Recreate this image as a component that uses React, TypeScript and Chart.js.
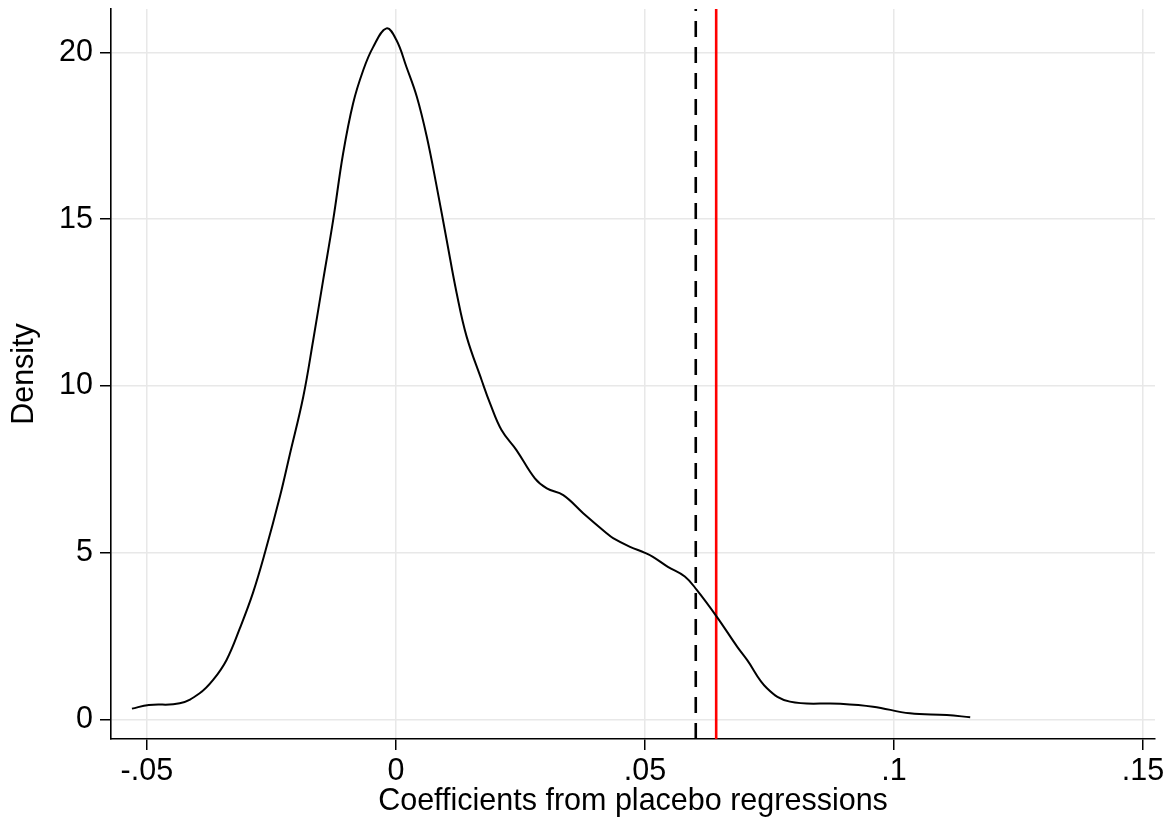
import React, { useEffect, useRef } from 'react';
import { Chart, registerables } from 'chart.js';

Chart.register(...registerables);

// Kernel density of placebo coefficients
const densityX = [
  -0.0530, -0.0496, -0.0434, -0.0394, -0.0367, -0.0340, -0.0313, -0.0287, -0.0263, -0.0233,
  -0.0213, -0.0186, -0.0166, -0.0146, -0.0126, -0.0106, -0.0086, -0.0066, -0.0046, -0.0019,
  0.0001, 0.0021, 0.0042, 0.0062, 0.0082, 0.0102, 0.0122, 0.0142, 0.0172, 0.0189,
  0.0212, 0.0242, 0.0279, 0.0303, 0.0336, 0.0376, 0.0423, 0.0436, 0.0470, 0.0500,
  0.0516, 0.0546, 0.0580, 0.0604, 0.0644, 0.0685, 0.0705, 0.0745, 0.0791, 0.0892,
  0.0958, 0.1032, 0.1106, 0.1153,
];
const densityY = [
  0.33, 0.44, 0.49, 0.79, 1.19, 1.79, 2.75, 3.80, 5.00, 6.68,
  7.95, 9.68, 11.38, 13.18, 14.97, 16.97, 18.47, 19.45, 20.15, 20.72,
  20.37, 19.57, 18.67, 17.47, 15.97, 14.37, 12.78, 11.48, 10.18, 9.48,
  8.68, 8.08, 7.23, 6.93, 6.73, 6.19, 5.59, 5.44, 5.18, 5.00,
  4.88, 4.58, 4.29, 3.89, 3.09, 2.19, 1.79, 0.94, 0.54, 0.48,
  0.39, 0.19, 0.14, 0.07,
];

const xTickValues = [-0.05, 0, 0.05, 0.1, 0.15];
const xTickLabels = ['-.05', '0', '.05', '.1', '.15'];
const yTickValues = [0, 5, 10, 15, 20];
const yTickLabels = ['0', '5', '10', '15', '20'];

const dashedLineX = 0.0602;
const redLineX = 0.0643;

const xMin = -0.0572;
const xMax = 0.1524;
const yMin = -0.58;
const yMax = 21.3;

const xTitle = 'Coefficients from placebo regressions';
const yTitle = 'Density';

export default function App() {
  const canvasRef = useRef<HTMLCanvasElement | null>(null);

  useEffect(() => {
    if (!canvasRef.current) return;
    const font = { family: '"Liberation Sans", Arial, Helvetica, sans-serif', size: 30.5 };
    const chart = new Chart(canvasRef.current, {
      type: 'line',
      data: {
        datasets: [
          {
            data: densityX.map((x, i) => ({ x, y: densityY[i] })),
            borderColor: '#000000',
            borderWidth: 2,
            pointRadius: 0,
            fill: false,
            tension: 0.4,
          },
          {
            data: [
              { x: dashedLineX, y: yMin },
              { x: dashedLineX, y: yMax },
            ],
            borderColor: '#000000',
            borderWidth: 2.6,
            borderDash: [16, 10],
            pointRadius: 0,
            fill: false,
          },
          {
            data: [
              { x: redLineX, y: yMin },
              { x: redLineX, y: yMax },
            ],
            borderColor: '#ff0000',
            borderWidth: 2.6,
            pointRadius: 0,
            fill: false,
          },
        ],
      },
      options: {
        animation: false,
        responsive: false,
        devicePixelRatio: 1,
        layout: { padding: { left: 0, top: 9, right: 11, bottom: 0 } },
        plugins: {
          legend: { display: false },
          tooltip: { enabled: false },
        },
        scales: {
          x: {
            type: 'linear',
            min: xMin,
            max: xMax,
            afterBuildTicks: (s: any) => {
              s.ticks = xTickValues.map((v) => ({ value: v }));
            },
            afterFit: (s: any) => {
              s.height = 84;
              s.paddingLeft = 0;
              s.paddingRight = 0;
            },
            ticks: {
              callback: (_v: any, i: number) => xTickLabels[i],
              font,
              color: '#000000',
              padding: 3,
              maxRotation: 0,
              autoSkip: false,
            },
            grid: {
              color: '#e8e8e8',
              lineWidth: 1.5,
              tickColor: '#000000',
              tickLength: 11,
              tickWidth: 1.5,
            },
            border: { color: '#000000', width: 1.6 },
            title: {
              display: true,
              text: xTitle,
              font,
              color: '#000000',
              padding: { top: 0, bottom: 3 },
            },
          },
          y: {
            type: 'linear',
            min: yMin,
            max: yMax,
            afterBuildTicks: (s: any) => {
              s.ticks = yTickValues.map((v) => ({ value: v }));
            },
            afterFit: (s: any) => {
              s.width = 111;
              s.paddingTop = 0;
              s.paddingBottom = 0;
            },
            ticks: {
              callback: (_v: any, i: number) => yTickLabels[i],
              font,
              color: '#000000',
              padding: 7,
              autoSkip: false,
            },
            grid: {
              color: '#e8e8e8',
              lineWidth: 1.5,
              tickColor: '#000000',
              tickLength: 11,
              tickWidth: 1.5,
            },
            border: { color: '#000000', width: 1.6 },
            title: {
              display: true,
              text: yTitle,
              font,
              color: '#000000',
              padding: { top: 6, bottom: 0 },
            },
          },
        },
      },
    } as any);
    return () => chart.destroy();
  }, []);

  return (
    <div style={{ position: 'absolute', left: 0, top: 0, width: 1166, height: 823, background: '#ffffff' }}>
      <canvas ref={canvasRef} width={1166} height={823} style={{ display: 'block' }} />
    </div>
  );
}
